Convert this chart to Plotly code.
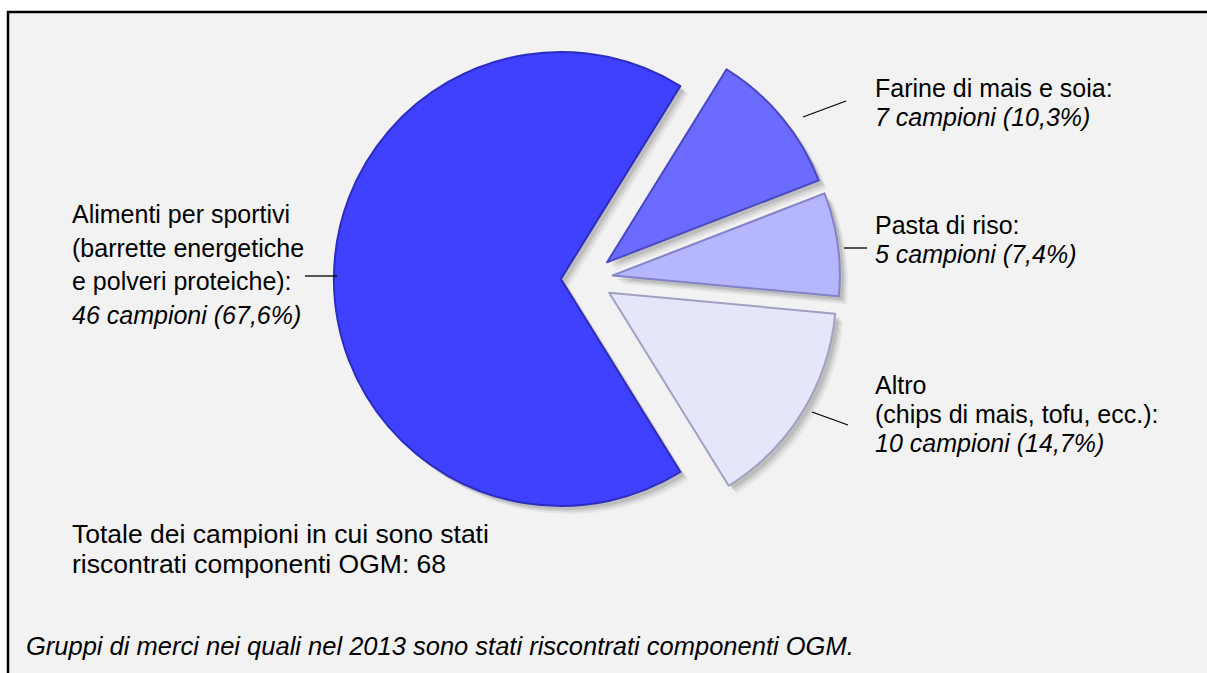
import plotly.graph_objects as go

# ---- data ----
categories = ["Alimenti per sportivi", "Farine di mais e soia", "Pasta di riso", "Altro"]
samples = [46, 7, 5, 10]
shares = [67.6, 10.3, 7.4, 14.7]
label_lines = [
    ["Alimenti per sportivi", "(barrette energetiche", "e polveri proteiche):"],
    ["Farine di mais e soia:"],
    ["Pasta di riso:"],
    ["Altro", "(chips di mais, tofu, ecc.):"],
]
total_lines = ["Totale dei campioni in cui sono stati", "riscontrati componenti OGM: 68"]
caption = "Gruppi di merci nei quali nel 2013 sono stati riscontrati componenti OGM."

colors = ["#4040ff", "#6b6bff", "#b6b6ff", "#e6e6fb"]
line_colors = ["#2c2cc0", "#4848c4", "#8282c8", "#a0a0c4"]

W, H = 1207, 673
FONT = "Liberation Sans, Arial, sans-serif"

def px_x(x):
    return x / W

def px_y(y):
    return 1 - y / H

# pie geometry (pixels)
cx, cy, r, pull = 587, 279, 227, 0.115
half = r * (1 + pull)
rotation = 270 - 360 * samples[0] / sum(samples) / 2

def dom(dx=0, dy=0):
    return dict(x=[px_x(cx - half + dx), px_x(cx + half + dx)],
                y=[px_y(cy + half + dy), px_y(cy - half + dy)])

fig = go.Figure()
# soft shadow
for off, a in [(8, 0.05), (6, 0.08), (4, 0.10)]:
    fig.add_trace(go.Pie(
        labels=categories, values=samples, sort=False, direction="clockwise",
        rotation=rotation, pull=[pull] * 4, textinfo="none", hoverinfo="skip",
        marker=dict(colors=[f"rgba(0,0,0,{a})"] * 4), domain=dom(off, off),
        showlegend=False))
fig.add_trace(go.Pie(
    labels=categories, values=samples, sort=False, direction="clockwise",
    rotation=rotation, pull=[pull] * 4, textinfo="none",
    marker=dict(colors=colors, line=dict(color=line_colors, width=2)),
    domain=dom(), showlegend=False))

shapes = [
    dict(type="rect", xref="paper", yref="paper", x0=px_x(8), x1=1,
         y0=0, y1=px_y(12), line=dict(width=0),
         fillcolor="#f2f2f2", layer="below"),
    # cover strip at the right edge (frame continues beyond the picture)
    dict(type="rect", xref="paper", yref="paper", x0=px_x(1195), x1=1.01,
         y0=-0.01, y1=px_y(13), line=dict(width=0),
         fillcolor="#f2f2f2", layer="above"),
    dict(type="line", xref="paper", yref="paper", x0=px_x(7), x1=1.01,
         y0=px_y(12), y1=px_y(12), line=dict(color="black", width=2.5)),
    dict(type="line", xref="paper", yref="paper", x0=px_x(8), x1=px_x(8),
         y0=-0.01, y1=px_y(11), line=dict(color="black", width=2.5)),
]
# leader lines
leaders = [
    (305, 276, 337, 276),
    (803, 117, 846, 101),
    (844, 248, 867, 248),
    (812, 412, 848, 425),
]
for x0, y0, x1, y1 in leaders:
    shapes.append(dict(type="line", xref="paper", yref="paper",
                       x0=px_x(x0), y0=px_y(y0), x1=px_x(x1), y1=px_y(y1),
                       line=dict(color="black", width=1.3)))

annotations = []

def add_line(text, x, y, size, italic=False):
    annotations.append(dict(
        text=f"<i>{text}</i>" if italic else text, x=px_x(x), y=px_y(y),
        xref="paper", yref="paper", xanchor="left", yanchor="middle",
        showarrow=False, font=dict(family=FONT, size=size, color="black")))

def fmt(n, p):
    return f"{n} campioni ({p:.1f}%)".replace(".", ",")

# label anchors (left x, first line centre y, line spacing)
anchors = [(70, 214, 33.5), (873, 88, 29), (873, 225, 28.5), (873, 385, 29)]
for i, (x, y, sp) in enumerate(anchors):
    lines = label_lines[i]
    for j, t in enumerate(lines):
        add_line(t, x, y + j * sp, 25)
    add_line(fmt(samples[i], shares[i]), x, y + len(lines) * sp, 25, italic=True)

for j, t in enumerate(total_lines):
    add_line(t, 70, 534 + j * 30, 26.5)

add_line(caption, 24, 646, 25.5, italic=True)

fig.update_layout(
    width=W, height=H, margin=dict(l=0, r=0, t=0, b=0),
    paper_bgcolor="white", plot_bgcolor="white",
    shapes=shapes, annotations=annotations, showlegend=False,
)
fig.write_html("out.html")
